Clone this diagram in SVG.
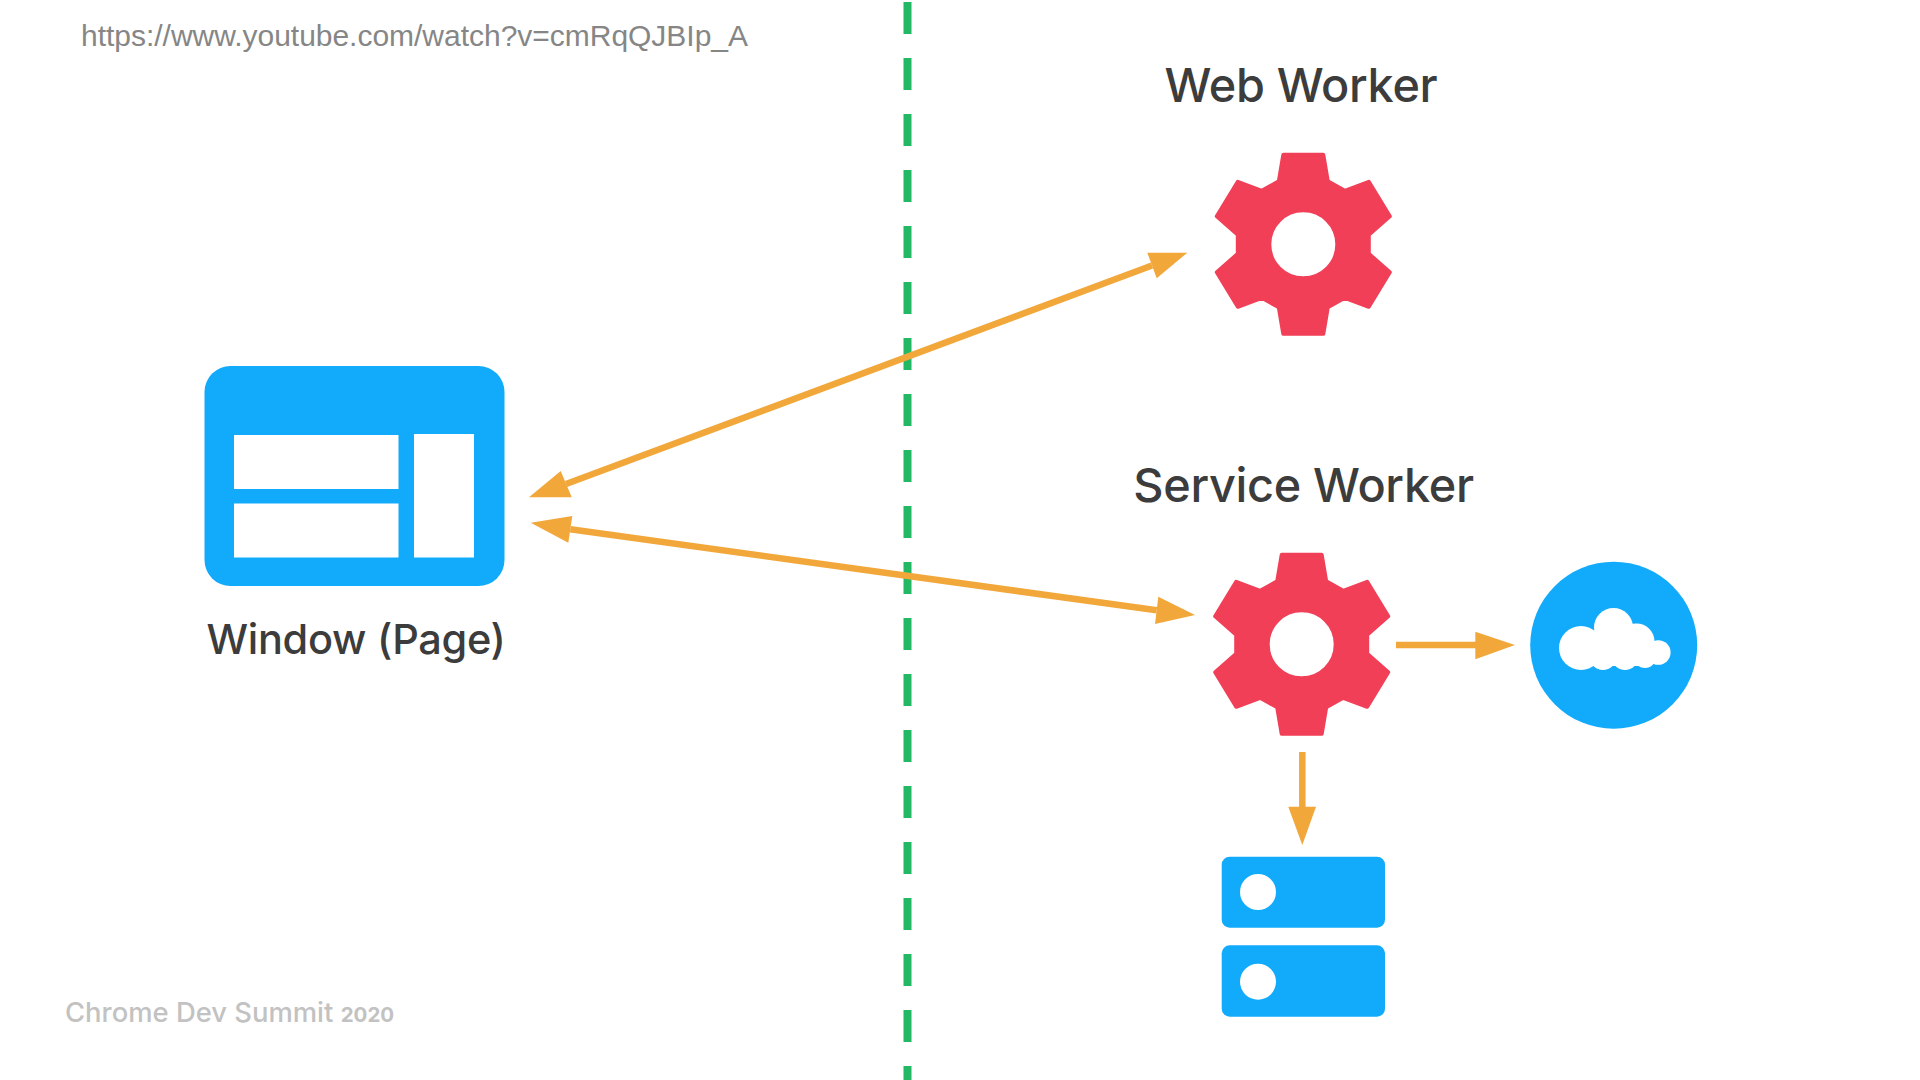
<svg xmlns="http://www.w3.org/2000/svg" width="1920" height="1080" viewBox="0 0 1920 1080">
<style>
.lbl{font-family:"Inter","Noto Sans",sans-serif;font-size:46.8px;font-weight:500;letter-spacing:-.3px;fill:#3c3c3c}
.url{font-family:"Liberation Sans",Arial,sans-serif;font-size:30px;fill:#868686}
.wm{font-family:"Inter","Noto Sans",sans-serif;fill:#c2c2c2}
.blue{fill:#12abfb}
.white{fill:#fff}
.gear{fill:#f13f57;stroke:#f13f57;stroke-width:4;stroke-linejoin:round;fill-rule:evenodd}
.shaft{stroke:#f2a73b;stroke-width:6.5;fill:none}
.head{fill:#f2a73b}
</style>
<defs>
<path id="gearShape" class="gear" d="M-20,-89.5 L20,-89.5 L24.5,-63 L41.5,-53.5 L65.5,-62.5 L86.5,-28 L65.5,-9.5 L65.5,9.5 L86.5,28 L65.5,62.5 L41.5,53.5 L24.5,63 L20,89.5 L-20,89.5 L-24.5,63 L-41.5,53.5 L-65.5,62.5 L-86.5,28 L-65.5,9.5 L-65.5,-9.5 L-86.5,-28 L-65.5,-62.5 L-41.5,-53.5 L-24.5,-63 Z M34,0 A34,34 0 1 0 -34,0 A34,34 0 1 0 34,0 Z"/>
</defs>
<rect width="1920" height="1080" fill="#fff"/>
<text class="url" id="source-url" x="81" y="46" textLength="667">https://www.youtube.com/watch?v=cmRqQJBIp_A</text>
<text class="wm" id="watermark" x="65" y="1022" font-size="27.4" font-weight="500">Chrome Dev Summit <tspan font-size="20.5" font-weight="700">2020</tspan></text>
<g id="window-page">
<rect class="blue" x="204.5" y="366" width="300" height="220" rx="26"/>
<rect class="white" x="234" y="435" width="164.5" height="54"/>
<rect class="white" x="234" y="503.5" width="164.5" height="54"/>
<rect class="white" x="414" y="434" width="60" height="123.5"/>
<text class="lbl" x="356" y="653.5" text-anchor="middle" style="font-size:41.5px">Window (Page)</text>
</g>
<g id="web-worker">
<use href="#gearShape" x="1303.3" y="244.3"/>
<text class="lbl" x="1301" y="101.5" text-anchor="middle">Web Worker</text>
</g>
<g id="service-worker">
<use href="#gearShape" x="1301.7" y="644.3"/>
<text class="lbl" x="1303.5" y="501.5" text-anchor="middle">Service Worker</text>
</g>
<g id="cloud">
<circle class="blue" cx="1613.7" cy="645.2" r="83.5"/>
<g class="white">
<circle cx="1581" cy="648" r="22"/>
<circle cx="1613.5" cy="627.5" r="19.5"/>
<circle cx="1636.5" cy="641.5" r="18"/>
<circle cx="1658.3" cy="652.5" r="12.3"/>
<circle cx="1603" cy="657" r="13"/>
<circle cx="1625" cy="657" r="13"/>
<circle cx="1645" cy="657" r="11"/>
<rect x="1581" y="640" width="68" height="26"/>
</g>
</g>
<g id="storage">
<rect class="blue" x="1221.7" y="856.7" width="163.3" height="71" rx="8"/>
<circle class="white" cx="1258" cy="892" r="18"/>
<rect class="blue" x="1221.7" y="945.3" width="163.3" height="71.4" rx="8"/>
<circle class="white" cx="1258" cy="981.7" r="18"/>
</g>
<g id="connectors">
<path id="boundary" d="M907.5,2 V1080" fill="none" stroke="#23b864" stroke-width="8" stroke-dasharray="32 24"/>
<g id="window-webworker">
<path class="shaft" d="M566,484 L1152,265.5"/>
<polygon class="head" points="529,497.3 560.7,471 571.7,497.3"/>
<polygon class="head" points="1187.3,252.7 1147.3,252.7 1156.7,278.3"/>
</g>
<g id="window-serviceworker">
<path class="shaft" d="M570.3,529.3 L1156.7,610.3"/>
<polygon class="head" points="530.7,522.7 572.3,516 568.3,542.7"/>
<polygon class="head" points="1195,615 1158.3,596.7 1155,624"/>
</g>
<g id="serviceworker-cloud">
<path class="shaft" d="M1396,645 H1476"/>
<polygon class="head" points="1515,645 1475.3,631.7 1475.3,659.3"/>
</g>
<g id="serviceworker-storage">
<path class="shaft" d="M1302.3,752 V807"/>
<polygon class="head" points="1302.3,845 1288.3,806.7 1316,806.7"/>
</g>
</g>
</svg>
